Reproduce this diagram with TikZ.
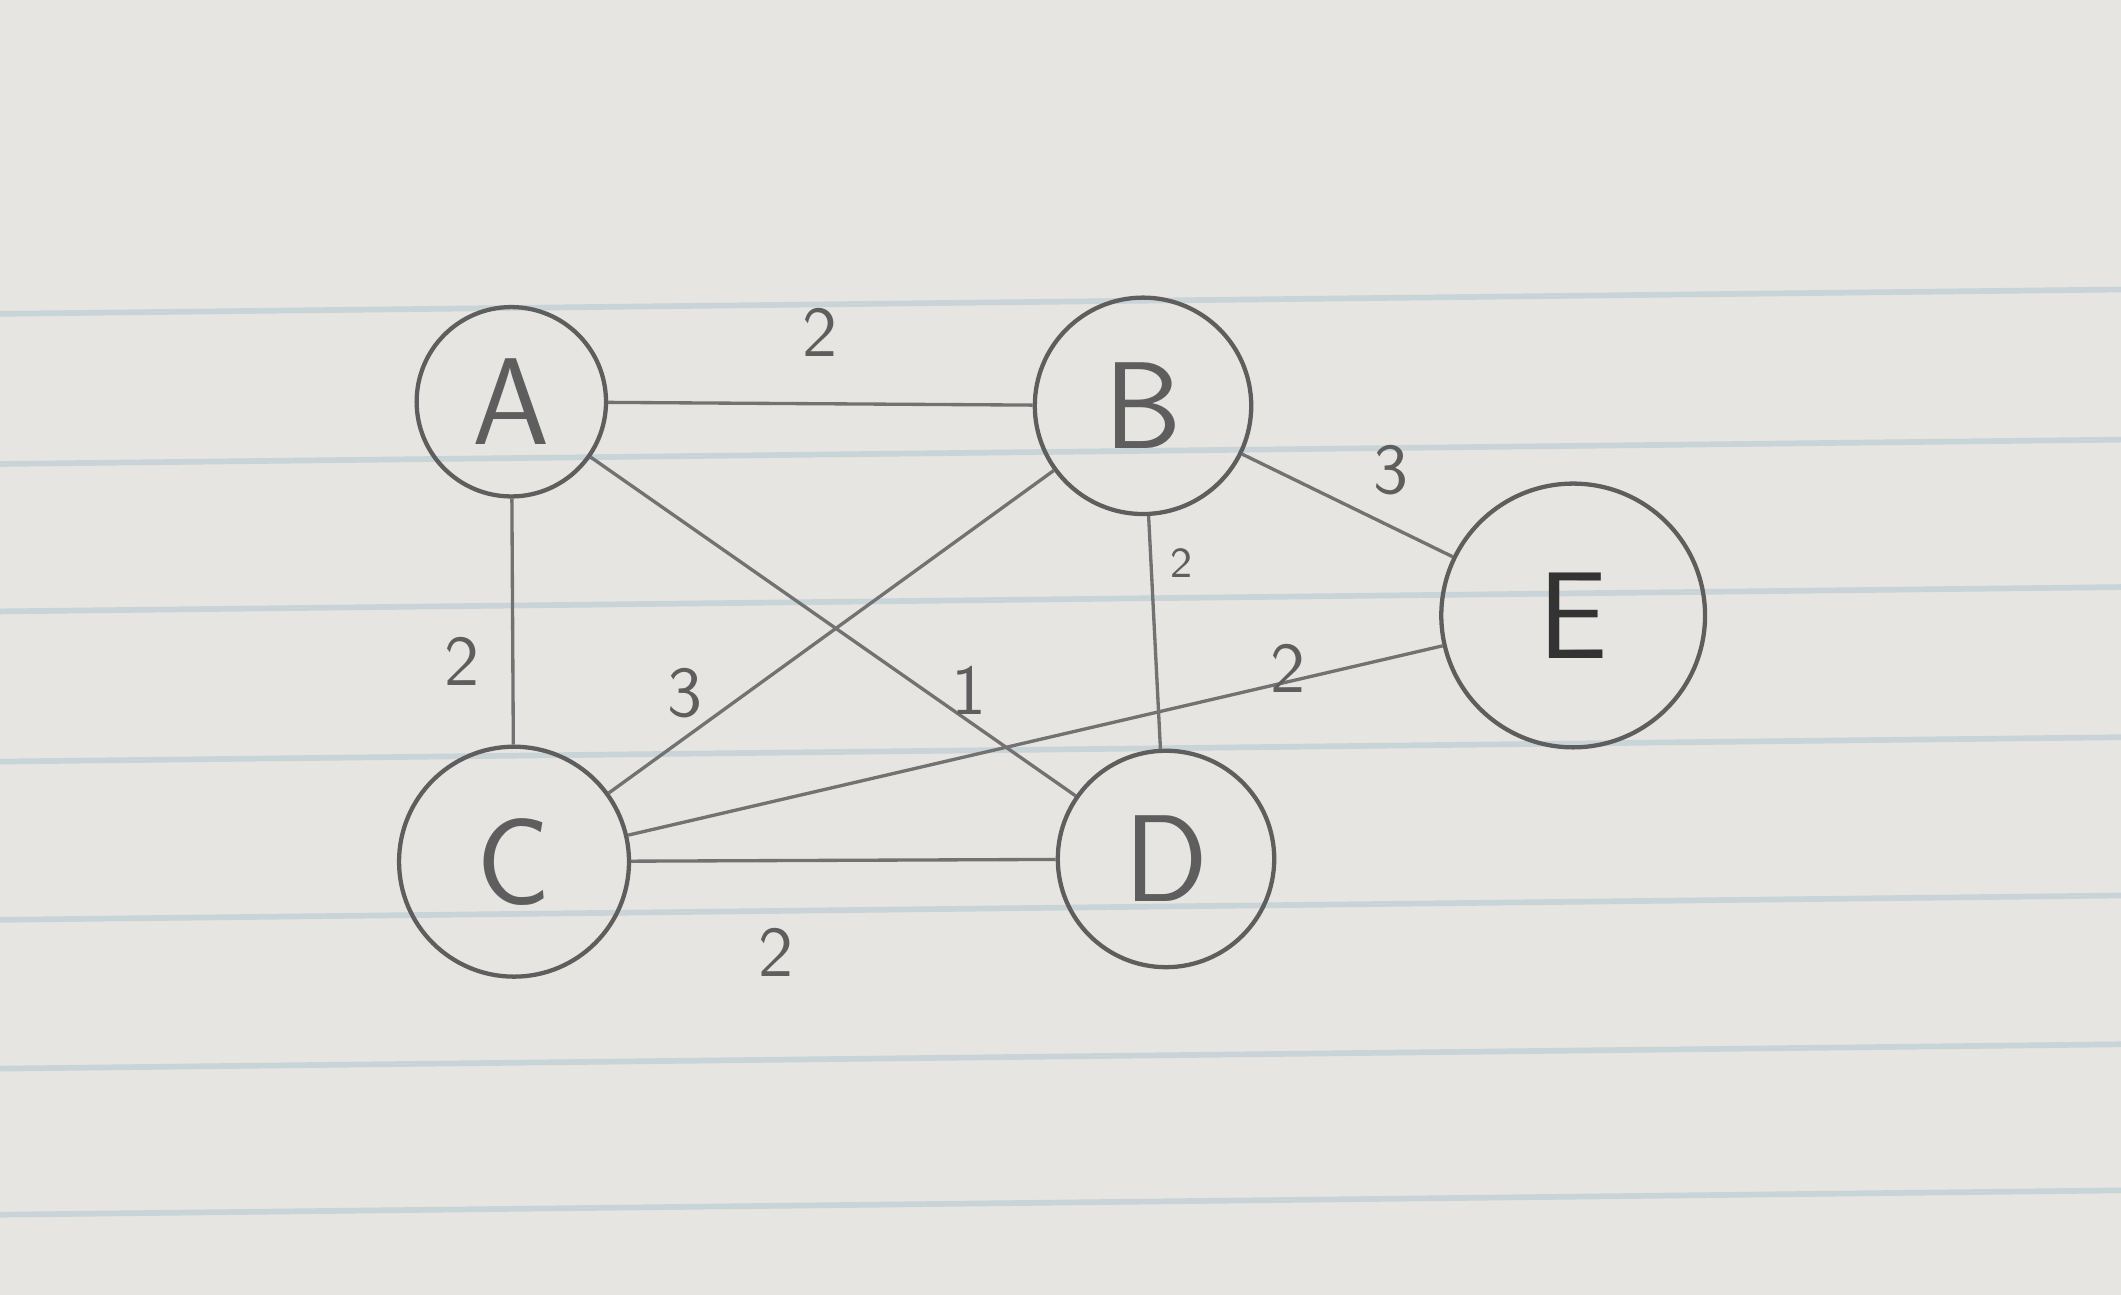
\documentclass[tikz,border=0pt]{standalone}
\usepackage{amsmath}
\usepackage{tikz}
\usetikzlibrary{positioning,calc}

\definecolor{paper}{HTML}{E7E5E1}
\definecolor{ruling}{HTML}{C8D4D8}
\definecolor{pencil}{HTML}{5E5E5E}
\definecolor{lightpencil}{HTML}{727272}

\begin{document}
\begin{tikzpicture}[
  vertex/.style={shape=circle, draw=pencil, line width=0.9pt, text=pencil,
                 font=\sffamily\fontsize{26}{30}\selectfont, inner sep=0pt},
  edge/.style={draw=lightpencil, line width=0.7pt},
  wt/.style={text=pencil, font=\sffamily\fontsize{15}{18}\selectfont, inner sep=1pt},
  rule/.style={draw=ruling, line width=1.2pt},
]
\fill[paper] (0,0) rectangle (15.68,9.57);
\useasboundingbox (0,0) rectangle (15.68,9.57);
\foreach \y in {7.25,6.14,5.05,3.94,2.77,1.67,0.59}
  \draw[rule] (0,\y) -- (15.68,\y+0.18);

\node[vertex, minimum size=14mm] (A) at (3.78,6.60) {A};
\node[vertex, minimum size=16mm] (B) at (8.45,6.57) {B};
\node[vertex, minimum size=17mm] (C) at (3.80,3.20) {C};
\node[vertex, minimum size=16mm] (D) at (8.62,3.22) {D};
\node[vertex, minimum size=19.5mm, text=black!80] (E) at (11.63,5.02) {E};

\draw[edge] (A) -- node[wt, midway, above=3mm] (wAB) {2} (B);
\draw[edge] (A) -- node[wt, pos=0.66, left=2mm] (wAC) {2} (C);
\draw[edge] (A) -- node[wt, pos=0.69, right=1.5mm] (wAD) {1} (D);
\draw[edge] (B) -- node[wt, pos=0.83, above=1mm] (wBC) {3} (C);
\draw[edge] (B) -- node[wt, pos=0.2, right=1mm, font=\sffamily\small] (wBD) {2} (D);
\draw[edge] (B) -- node[wt, pos=0.55, above right=1mm] (wBE) {3} (E);
\draw[edge] (C) -- node[wt, pos=0.81, yshift=1mm] (wCE) {2} (E);
\draw[edge] (C) -- node[wt, pos=0.34, below=4.5mm] (wCD) {2} (D);
\end{tikzpicture}
\end{document}
